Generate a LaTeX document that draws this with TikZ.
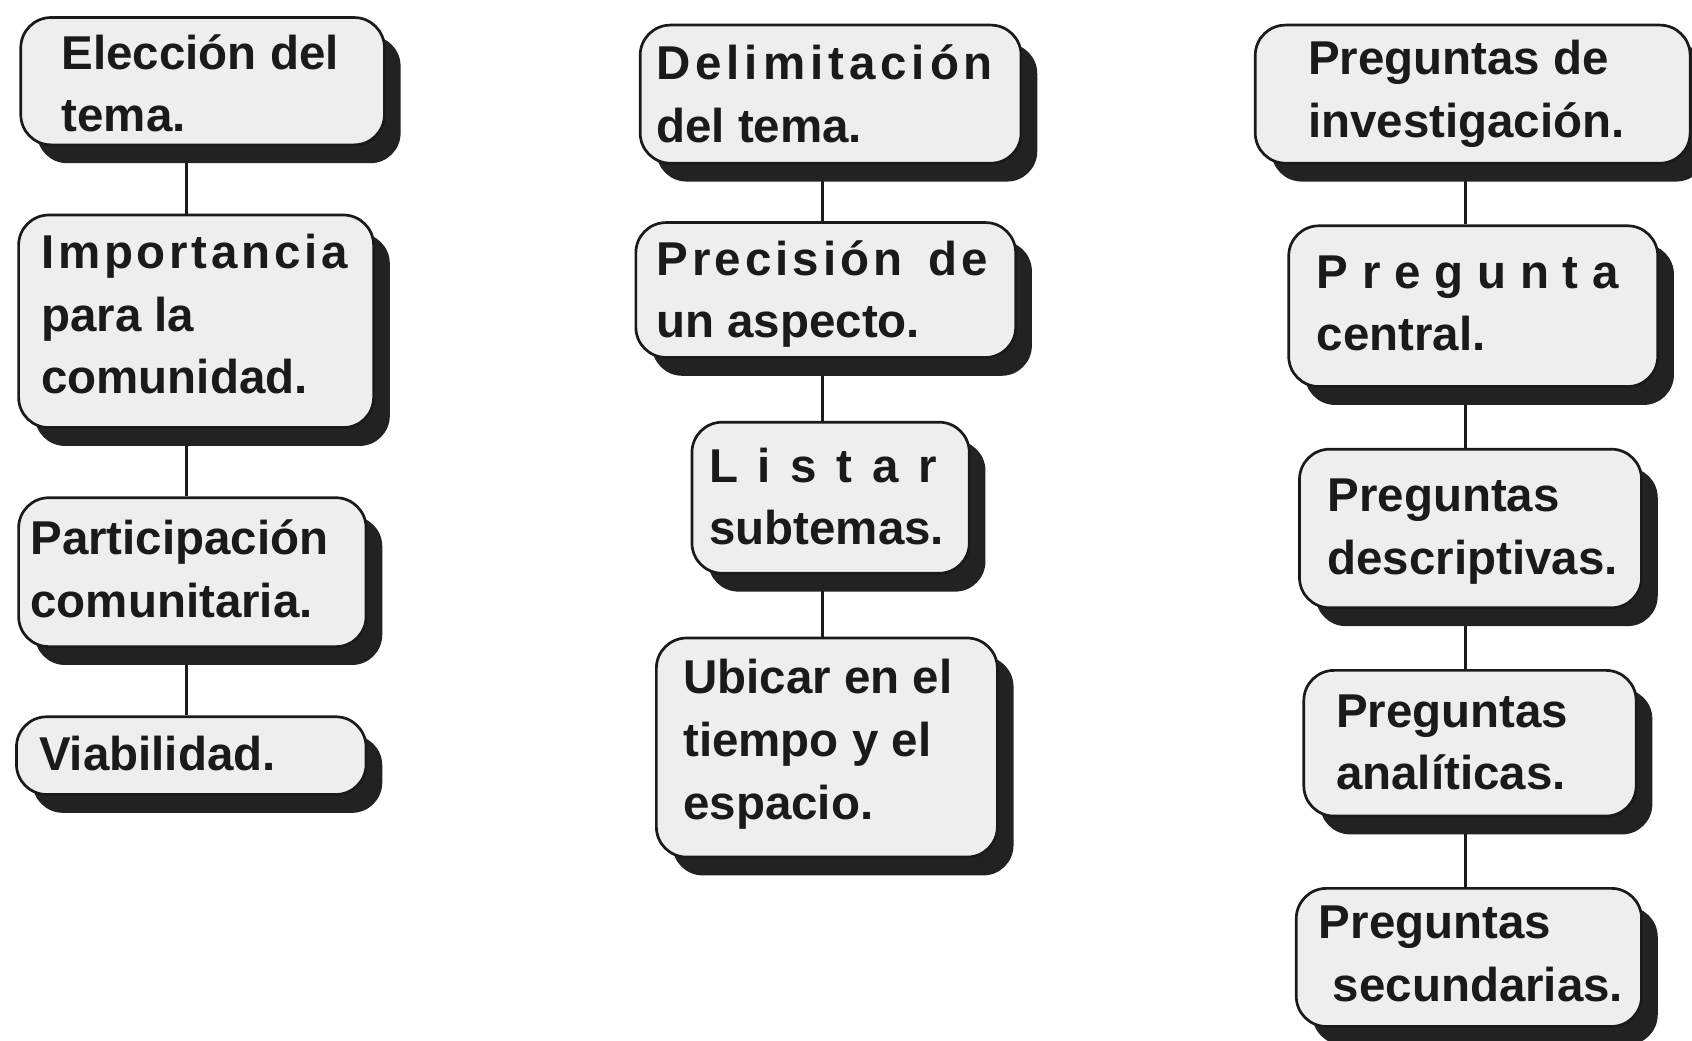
\documentclass[tikz,border=0pt]{standalone}
\usepackage{fontspec}
\setmainfont{Liberation Sans}
\usetikzlibrary{shadows}
\pgfdeclarelayer{bg}
\pgfsetlayers{bg,main}
\definecolor{boxfill}{HTML}{EEEEEE}
\definecolor{shadowc}{HTML}{222222}
\definecolor{inkc}{HTML}{1A1A1A}
\begin{document}
\begin{tikzpicture}[x=1pt,y=-1pt,
  box/.style={draw=inkc, line width=2.5pt, rounded corners=28pt, fill=boxfill,
    inner sep=0pt, anchor=north west,
    drop shadow={shadow xshift=15pt, shadow yshift=-17pt, fill=shadowc, opacity=1}},
  txt/.style={inner sep=0pt, anchor=base west, font=\fontsize{44}{58}\selectfont\bfseries, text=inkc},
  link/.style={draw=inkc, line width=3pt}]
\clip (0,0) rectangle (1568,964);
% column axes
\coordinate (colL) at (173,0);
\coordinate (colM) at (762,0);
\coordinate (colR) at (1358,0);
% left column
\node[box, minimum width=337pt, minimum height=118pt] (b1) at (18,15) {};
\node[box, minimum width=329pt, minimum height=197pt] (b2) at (16,198) {};
\node[box, minimum width=322pt, minimum height=138pt] (b3) at (16,460) {};
\node[box, minimum width=324pt, minimum height=72pt] (b4) at (14,663) {};
% middle column
\node[box, minimum width=353pt, minimum height=128pt] (m1) at (592,22) {};
\node[box, minimum width=352pt, minimum height=125pt] (m2) at (588,205) {};
\node[box, minimum width=257pt, minimum height=140pt] (m3) at (640,390) {};
\node[box, minimum width=316pt, minimum height=203pt] (m4) at (607,590) {};
% right column
\node[box, minimum width=403pt, minimum height=128pt] (r1) at (1162,22) {};
\node[box, minimum width=342pt, minimum height=149pt] (r2) at (1193,208) {};
\node[box, minimum width=317pt, minimum height=147pt] (r3) at (1203,415) {};
\node[box, minimum width=308pt, minimum height=135pt] (r4) at (1207,620) {};
\node[box, minimum width=320pt, minimum height=128pt] (r5) at (1200,822) {};
% texts
\node[txt] (tb1) at (57,64) {\vtop{\hbox{Elección del}\hbox{tema.}}};
\node[txt] (tb2) at (38,249) {\vtop{\hbox to 284pt{I\hfil m\hfil p\hfil o\hfil r\hfil t\hfil a\hfil n\hfil c\hfil i\hfil a}\hbox{para la}\hbox{comunidad.}}};
\node[txt] (tb3) at (28,514) {\vtop{\hbox{Participación}\hbox{comunitaria.}}};
\node[txt] (tb4) at (36,714) {Viabilidad.};
\node[txt] (tm1) at (608,74) {\vtop{\hbox to 312pt{D\hfil e\hfil l\hfil i\hfil m\hfil i\hfil t\hfil a\hfil c\hfil i\hfil ó\hfil n}\hbox{del tema.}}};
\node[txt] (tm2) at (608,255) {\vtop{\hbox to 307pt{P\hfil r\hfil e\hfil c\hfil i\hfil s\hfil i\hfil ó\hfil n\hfil\hfil\hfil\ d\hfil e}\hbox{un aspecto.}}};
\node[txt] (tm3) at (657,447) {\vtop{\hbox to 211pt{L\hfil i\hfil s\hfil t\hfil a\hfil r}\hbox{subtemas.}}};
\node[txt] (tm4) at (633,643) {\vtop{\hbox{Ubicar en el}\hbox{tiempo y el}\hbox{espacio.}}};
\node[txt] (tr1) at (1212,69) {\vtop{\hbox{Preguntas de}\hbox{investigación.}}};
\node[txt] (tr2) at (1220,267) {\vtop{\hbox to 280pt{P\hfil r\hfil e\hfil g\hfil u\hfil n\hfil t\hfil a}\hbox{central.}}};
\node[txt] (tr3) at (1230,474) {\vtop{\hbox{Preguntas}\hbox{descriptivas.}}};
\node[txt] (tr4) at (1238,674) {\vtop{\hbox{Preguntas}\hbox{analíticas.}}};
\node[txt] (tr5) at (1222,870) {\vtop{\hbox{Preguntas}\hbox{\kern13pt secundarias.}}};
% connectors
\begin{pgfonlayer}{bg}
\draw[link] (b1.south -| colL) -- (b2.north -| colL);
\draw[link] (b2.south -| colL) -- (b3.north -| colL);
\draw[link] (b3.south -| colL) -- (b4.north -| colL);
\draw[link] (m1.south -| colM) -- (m2.north -| colM);
\draw[link] (m2.south -| colM) -- (m3.north -| colM);
\draw[link] (m3.south -| colM) -- (m4.north -| colM);
\draw[link] (r1.south -| colR) -- (r2.north -| colR);
\draw[link] (r2.south -| colR) -- (r3.north -| colR);
\draw[link] (r3.south -| colR) -- (r4.north -| colR);
\draw[link] (r4.south -| colR) -- (r5.north -| colR);
\end{pgfonlayer}
\end{tikzpicture}
\end{document}
